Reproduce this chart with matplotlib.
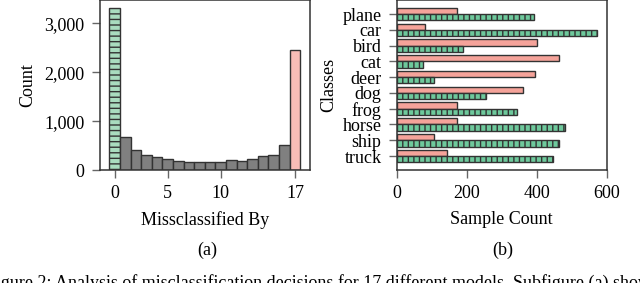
import matplotlib
matplotlib.use("Agg")
import matplotlib.pyplot as plt
import numpy as np

plt.rcParams['font.family'] = ['Liberation Serif', 'DejaVu Serif']
plt.rcParams['hatch.linewidth'] = 1.0

# Left histogram data
missclassified_by = list(range(18))
counts = [3315, 670, 404, 302, 260, 219, 192, 164, 164, 164, 158, 198, 185, 226, 281, 308, 507, 2466]

# Right bar data
classes = ["plane", "car", "bird", "cat", "deer", "dog", "frog", "horse", "ship", "truck"]
always_wrong = [171, 80, 402, 464, 396, 362, 171, 171, 107, 143]
always_right = [391, 572, 188, 74, 107, 254, 344, 480, 464, 446]

fig = plt.figure(figsize=(6.4, 2.83), dpi=100)
axL = fig.add_axes([0.156, 0.399, 0.328, 0.601])
axR = fig.add_axes([0.620, 0.399, 0.328, 0.601])

edge = '#333333'
for ax in (axL, axR):
    for s in ax.spines.values():
        s.set_color('#333333')
        s.set_linewidth(1.1)
    ax.tick_params(direction='out', length=6, width=1.0, color='#666666', labelsize=13, pad=5)

# Left: histogram-like bars
cols = []
hatches = []
for v in missclassified_by:
    if v == 0:
        cols.append('#a9dcbf'); hatches.append('---')
    elif v == 17:
        cols.append('#f8bdb7'); hatches.append('')
    else:
        cols.append('#808080'); hatches.append('')
bars = axL.bar(missclassified_by, counts, width=1.0, color=cols, edgecolor=edge, linewidth=1.0)
for b, h in zip(bars, hatches):
    b.set_hatch(h)
axL.set_xticks([0, 5, 10, 17])
axL.set_yticks([0, 1000, 2000, 3000])
axL.set_yticklabels(['0', '1,000', '2,000', '3,000'])
axL.set_xlabel('Missclassified By', fontsize=13, labelpad=6)
axL.set_ylabel('Count', fontsize=13, labelpad=6)

# Right: horizontal grouped bars
y = np.arange(len(classes))
h = 0.4
axR.barh(y - h / 2, always_wrong, height=h, color='#f5a39a', edgecolor=edge, linewidth=1.0)
axR.barh(y + h / 2, always_right, height=h, color='#6ec99c', edgecolor=edge, linewidth=1.0, hatch='|||')
axR.set_yticks(y)
axR.set_yticklabels(classes)
axR.set_xlim(0, 600)
axR.set_xticks([0, 200, 400, 600])
axR.invert_yaxis()
axR.set_xlabel('Sample Count', fontsize=13, labelpad=6)
axR.set_ylabel('Classes', fontsize=13, labelpad=4)

fig.text(207 / 640, 1 - 250 / 283, '(a)', ha='center', va='center', fontsize=13)
fig.text(503 / 640, 1 - 250 / 283, '(b)', ha='center', va='center', fontsize=13)
fig.text(0.503, 1 - 283 / 283, 'Figure 2: Analysis of misclassification decisions for 17 different models. Subfigure (a) shows',
         ha='center', va='center', fontsize=13)

fig.savefig('out.png', dpi=100)
